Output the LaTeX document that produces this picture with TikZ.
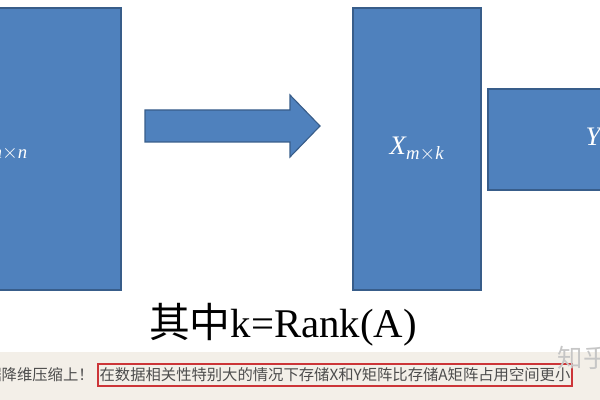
\documentclass[tikz,border=0pt]{standalone}
\usepackage{fontspec}
\setmainfont{Liberation Serif}
\newfontfamily\cjk{Noto Sans CJK SC}
\usetikzlibrary{positioning,calc}
\definecolor{boxblue}{HTML}{4F81BD}
\definecolor{boxedge}{HTML}{385D8A}
\definecolor{stripbg}{HTML}{F3EFE8}
\definecolor{notered}{HTML}{CC3538}
\definecolor{notegray}{HTML}{4D4D4D}
\tikzstyle{mat} = [rectangle,draw=boxedge,fill=boxblue,line width=1.2pt,text=white,font=\fontsize{19}{19}\selectfont]
\tikzstyle{note} = [font=\cjk\fontsize{10.9}{12}\selectfont,text=notegray,inner sep=0pt]

\begin{document}
\begin{tikzpicture}[x=0.025cm,y=-0.025cm]
  \useasboundingbox (0,0) rectangle (600,400);
  \clip (0,0) rectangle (600,400);
  % bottom strip
  \fill[stripbg] (0,352) rectangle (600,400);
  % the three matrices
  \node[mat,minimum width=6.05cm,minimum height=7.05cm] (A) at (0,149) {$\mathit{A}_{\mathit{m}\times\mathit{n}}$};
  \node[mat,minimum width=3.2cm,minimum height=7.05cm] (X) at (417,149) {$\mathit{X}_{\mathit{m}\times\mathit{k}}$};
  \node[mat,minimum width=6.1cm,minimum height=2.525cm] (Y) at (610,139.5) {$\mathit{Y}_{\mathit{k}\times\mathit{n}}$};
  % big arrow
  \filldraw[fill=boxblue,draw=boxedge,line width=0.8pt] (145,110) -- (290,110) -- (290,95) -- (320,126) -- (290,157) -- (290,142) -- (145,142) -- cycle;
  \node[anchor=base,font=\fontsize{29}{29}\selectfont] (rank) at (283,338) {{\cjk 其中}k=Rank(A)};
  \node[note,draw=notered,line width=1.4pt,minimum width=11.85cm,minimum height=0.55cm] (box) at (335,375) {在数据相关性特别大的情况下存储X和Y矩阵比存储A矩阵占用空间更小};
  \node[note,anchor=east] (pre) at ($(box.west)+(-3,0)$) {据降维压缩上！};
  \node[font=\cjk\fontsize{18}{18}\selectfont,text=gray!45,anchor=west] (mark) at (553,358) {知乎};
\end{tikzpicture}
\end{document}
